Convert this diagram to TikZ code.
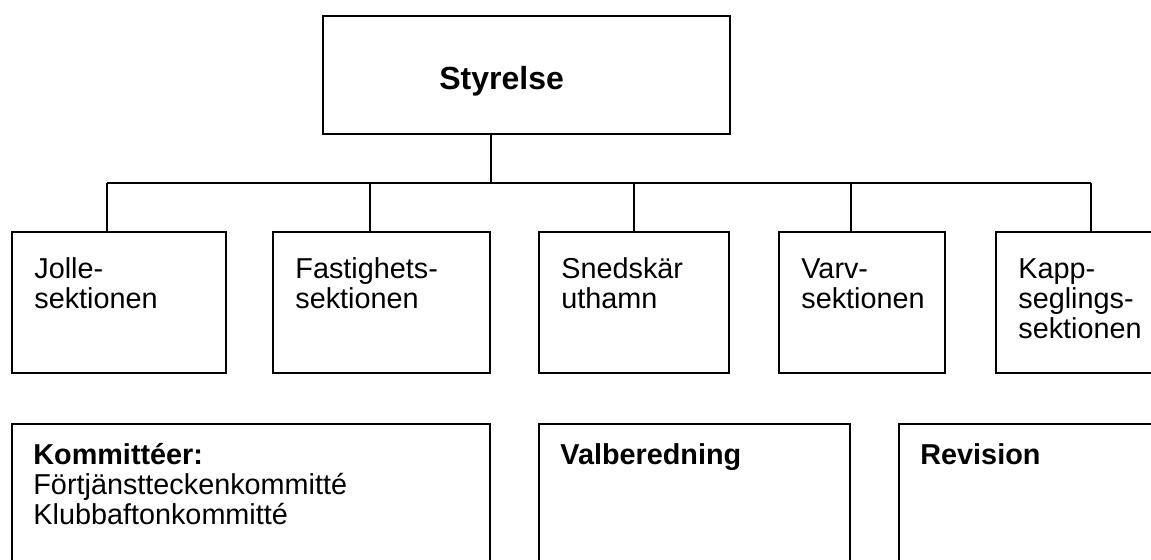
\documentclass[tikz,border=0pt]{standalone}
\usepackage{fontspec}
\setmainfont{Liberation Sans}
\newcommand{\boxlines}[1]{\begin{tabular}[t]{@{}l@{}}#1\end{tabular}}

\begin{document}
\begin{tikzpicture}[x=0.5pt,y=-0.5pt,
  orgbox/.style={draw, line width=1.4pt, rectangle, inner sep=0pt, outer sep=0pt, anchor=north west, minimum height=70.5pt},
  lowbox/.style={orgbox, minimum height=100pt},
  orgtext/.style={anchor=base west, inner sep=0pt, font=\fontsize{14.4}{15}\selectfont},
  link/.style={draw, line width=0.6pt}]
\useasboundingbox (0,0) rectangle (1151,559);
\clip (0,0) rectangle (1151,559);

\node[orgbox, minimum width=203.5pt, minimum height=59pt] (styrelse) at (323,16) {};
\node[orgtext, font=\fontsize{16}{19}\selectfont\bfseries] (styrelsetxt) at ([shift={(116,73)}]styrelse.north west) {Styrelse};

\node[orgbox, minimum width=107pt] (jolle) at (12,232) {};
\node[orgbox, minimum width=108.5pt] (fastighet) at (273,232) {};
\node[orgbox, minimum width=95pt] (snedskar) at (539,232) {};
\node[orgbox, minimum width=83pt] (varv) at (779,232) {};
\node[orgbox, minimum width=100pt] (kapp) at (996,232) {};

\node[orgtext] (jolletxt) at ([shift={(22,46)}]jolle.north west) {\boxlines{Jolle-\\sektionen}};
\node[orgtext] (fastighettxt) at ([shift={(22,46)}]fastighet.north west) {\boxlines{Fastighets-\\sektionen}};
\node[orgtext] (snedskartxt) at ([shift={(22,46)}]snedskar.north west) {\boxlines{Snedskär\\uthamn}};
\node[orgtext] (varvtxt) at ([shift={(22,46)}]varv.north west) {\boxlines{Varv-\\sektionen}};
\node[orgtext] (kapptxt) at ([shift={(22,46)}]kapp.north west) {\boxlines{Kapp-\\seglings-\\sektionen}};

\node[lowbox, minimum width=239pt] (kommitte) at (12,424) {};
\node[lowbox, minimum width=155.5pt] (valberedning) at (539,424) {};
\node[lowbox, minimum width=150pt] (revision) at (899,424) {};

\node[orgtext] (kommittetxt) at ([shift={(21,40)}]kommitte.north west) {\boxlines{\textbf{Kommittéer:}\\Förtjänstteckenkommitté\\Klubbaftonkommitté}};
\node[orgtext, font=\fontsize{14.4}{15}\selectfont\bfseries] (valberedningtxt) at ([shift={(21,40)}]valberedning.north west) {Valberedning};
\node[orgtext, font=\fontsize{14.4}{15}\selectfont\bfseries] (revisiontxt) at ([shift={(21,40)}]revision.north west) {Revision};

\coordinate (b0) at (491,183);
\coordinate (b1) at (107,183);
\coordinate (b2) at (370,183);
\coordinate (b3) at (634,183);
\coordinate (b4) at (851,183);
\coordinate (b5) at (1091,183);

\draw[link] (b0 |- styrelse.south) -- (b0);
\draw[link] (b1) -- (b5);
\foreach \b/\n in {b1/jolle, b2/fastighet, b3/snedskar, b4/varv, b5/kapp}
  \draw[link] (\b) -- (\b |- \n.north);
\end{tikzpicture}
\end{document}
